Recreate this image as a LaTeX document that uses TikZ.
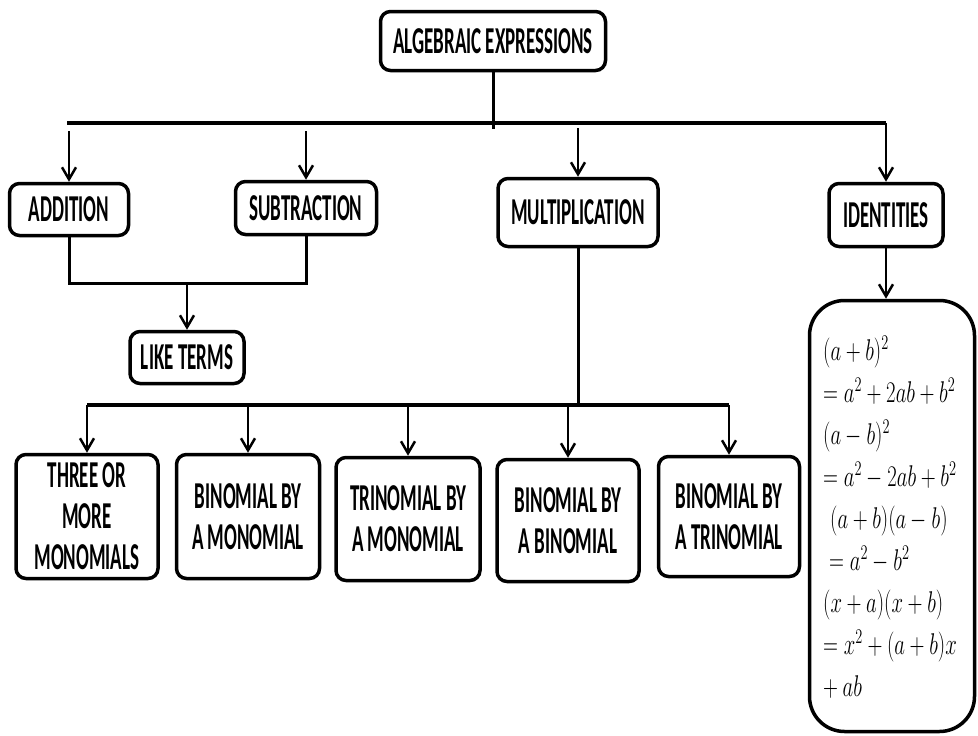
\documentclass[tikz,border=0pt]{standalone}
\usepackage{fontspec}
\usepackage{graphicx}
\usetikzlibrary{arrows.meta}
% Tall, narrow bold sans for the box labels
\newfontfamily\labfont{Carlito}[FakeStretch=0.5]

\tikzset{
  box/.style={draw, line width=3.5pt, rounded corners=10pt, align=center,
    inner sep=0pt, font=\labfont\bfseries\fontsize{38}{41}\selectfont},
  bus/.style={line width=4.5pt},
  conn/.style={line width=3pt},
  arr/.style={line width=2.5pt, -{Straight Barb[length=12pt,width=14pt,line width=2.5pt]}},
}

\begin{document}
\begin{tikzpicture}[x=1pt,y=-1pt]
\useasboundingbox (0,0) rectangle (978,736);

% --- top level ---
\node[box, minimum width=225, minimum height=59] (root) at (493,41) {ALGEBRAIC EXPRESSIONS};

\node[box, minimum width=119, minimum height=52] (add)   at (69,209.5) {ADDITION};
\node[box, minimum width=141, minimum height=53] (sub)   at (306,208) {SUBTRACTION};
\node[box, minimum width=160, minimum height=68] (mult)  at (578,212.5) {MULTIPLICATION};
\node[box, minimum width=114, minimum height=63] (ident) at (886,215) {IDENTITIES};
\node[box, minimum width=114, minimum height=52] (like)  at (187,357.5) {LIKE TERMS};

% --- kinds of multiplication ---
\node[box, minimum width=142, minimum height=124] (m1) at (87,516.5)  {THREE OR\\MORE\\MONOMIALS};
\node[box, minimum width=143, minimum height=124] (m2) at (248,516.5) {BINOMIAL BY\\A MONOMIAL};
\node[box, minimum width=144, minimum height=123] (m3) at (408,519)   {TRINOMIAL BY\\A MONOMIAL};
\node[box, minimum width=142, minimum height=122] (m4) at (568,520.5) {BINOMIAL BY\\A BINOMIAL};
\node[box, minimum width=141, minimum height=120] (m5) at (729,516.5) {BINOMIAL BY\\A TRINOMIAL};

% --- identities ---
\node[box, rounded corners=35pt, minimum width=165, minimum height=431] (idbox) at (892,516) {};
\node[anchor=north west, inner sep=0pt, font=\fontsize{20.74}{29.04}\selectfont] (idtext) at (823,331)
  {\scalebox{1.0}[1.4465]{\begin{tabular}{@{}l@{}}
    $(a+b)^2$\\
    $=a^2+2ab+b^2$\\
    $(a-b)^2$\\
    $=a^2-2ab+b^2$\\
    \hspace{7pt}$(a+b)(a-b)$\\
    \hspace{6pt}$=a^2-b^2$\\
    $(x+a)(x+b)$\\
    $=x^2+(a+b)x$\\
    $+\:ab$
  \end{tabular}}};

% --- upper tree ---
\coordinate (stub)  at (493,129);
\coordinate (busL)  at (67,123);
\coordinate (busR)  at (886,123);
\coordinate (addT)  at (69,131);
\coordinate (subT)  at (306,131);
\coordinate (multT) at (578,128);
\draw[conn] (root.south) -- (stub);
\draw[bus] (busL) -- (busR);
\draw[arr] (busR) -- (ident.north);
\draw[arr] (addT) -- (add.north);
\draw[arr] (subT) -- (sub.north);
\draw[arr] (multT) -- (mult.north);

% addition and subtraction lead to like terms
\coordinate (join) at (187,283);
\draw[conn] (add.south) -- (add.south |- join) -| (sub.south);
\draw[arr] (join) -- (like.north);

% multiplication branches
\coordinate (bus2) at (578,405);
\draw[conn] (mult.south) -- (bus2);
\draw[bus] (m1.north |- bus2) -- (m5.north |- bus2);
\foreach \n in {m1,m2,m3,m4,m5}
  \draw[arr] (\n.north |- bus2) -- (\n.north);

% identities list
\draw[arr] (ident.south) -- (ident.south |- idbox.north);
\end{tikzpicture}
\end{document}
